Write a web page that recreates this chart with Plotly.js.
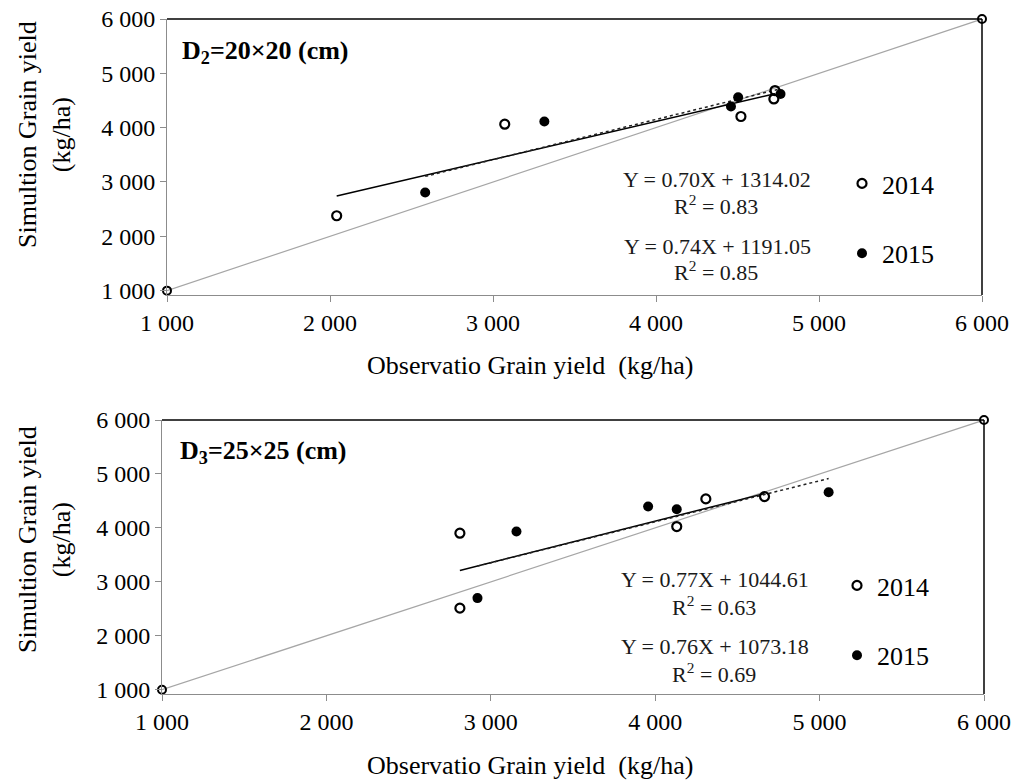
<!DOCTYPE html>
<html>
<head>
<meta charset="utf-8">
<script src="https://cdn.plot.ly/plotly-3.0.1.min.js"></script>
<style>html,body{margin:0;padding:0;background:#fff;}#chart{width:1014px;height:782px;}</style>
</head>
<body>
<div id="chart"></div>
<script>
// ---- data ----
var tickValues = [1000, 2000, 3000, 4000, 5000, 6000];
var tickLabels = ["1 000", "2 000", "3 000", "4 000", "5 000", "6 000"];
var oneToOne = [1000, 6000];

// Panel D2 = 20x20
var d2Obs2014 = [2041, 3072, 4521, 4723, 4730];
var d2Sim2014 = [2379, 4064, 4205, 4529, 4683];
var d2Obs2015 = [2584, 3315, 4460, 4504, 4764];
var d2Sim2015 = [2808, 4113, 4388, 4560, 4621];

// Panel D3 = 25x25
var d3Obs2014 = [2812, 2812, 4131, 4308, 4665];
var d3Sim2014 = [3901, 2512, 4025, 4537, 4580];
var d3Obs2015 = [2919, 3156, 3957, 4131, 5055];
var d3Sim2015 = [2698, 3932, 4395, 4346, 4660];

// regression coefficients [2014, 2015]
var d2Slope = [0.70, 0.74];
var d2Intercept = [1314.02, 1191.05];
var d2R2 = ["0.83", "0.85"];
var d3Slope = [0.77, 0.76];
var d3Intercept = [1044.61, 1073.18];
var d3R2 = ["0.63", "0.69"];

var panelLabels = ["D<sub>2</sub>=20×20 (cm)", "D<sub>3</sub>=25×25 (cm)"];
var seriesNames = ["2014", "2015"];
var xTitle = "Observatio Grain yield  (kg/ha)";
var yTitle = "Simultion Grain yield<br>(kg/ha)";

// ---- helpers ----
var FONT = "Liberation Serif";
function fitLine(xs, slope, intercept) {
  var lo = Math.min.apply(null, xs), hi = Math.max.apply(null, xs);
  return {x: [lo, hi], y: [slope * lo + intercept, slope * hi + intercept]};
}
function fmtEq(s, b) { return "Y = " + s.toFixed(2) + "X + " + b.toFixed(2); }

function panelTraces(xa, ya, leg, o14, s14, o15, s15, slope, inter) {
  var f14 = fitLine(o14, slope[0], inter[0]);
  var f15 = fitLine(o15, slope[1], inter[1]);
  return [
    {x: oneToOne, y: oneToOne, xaxis: xa, yaxis: ya, mode: "lines+markers", showlegend: false, cliponaxis: false,
     line: {color: "#a6a6a6", width: 1.2},
     marker: {symbol: "circle-open", size: 8, color: "#000", line: {width: 2, color: "#000"}}},
    {x: f14.x, y: f14.y, xaxis: xa, yaxis: ya, mode: "lines", showlegend: false,
     line: {color: "#000", width: 1.5}},
    {x: f15.x, y: f15.y, xaxis: xa, yaxis: ya, mode: "lines", showlegend: false,
     line: {color: "#222", width: 1.5, dash: "dot"}},
    {x: o14, y: s14, xaxis: xa, yaxis: ya, mode: "markers", name: seriesNames[0], cliponaxis: false,
     legend: leg, legendgroup: leg + "a",
     marker: {symbol: "circle-open", size: 9, color: "#000", line: {width: 2.2, color: "#000"}}},
    {x: o15, y: s15, xaxis: xa, yaxis: ya, mode: "markers", name: seriesNames[1], cliponaxis: false,
     legend: leg, legendgroup: leg + "b",
     marker: {symbol: "circle", size: 10, color: "#000"}}
  ];
}

var traces = [].concat(
  panelTraces("x", "y", "legend", d2Obs2014, d2Sim2014, d2Obs2015, d2Sim2015, d2Slope, d2Intercept),
  panelTraces("x2", "y2", "legend2", d3Obs2014, d3Sim2014, d3Obs2015, d3Sim2015, d3Slope, d3Intercept)
);

function axisX(domain, anchor) {
  return {domain: domain, anchor: anchor, range: [1000, 6000], tickvals: tickValues, ticktext: tickLabels,
    showline: true, linecolor: "#8c8c8c", linewidth: 1, ticks: "outside", ticklen: 6, tickcolor: "#8c8c8c",
    showgrid: false, zeroline: false, tickfont: {family: FONT, size: 24, color: "#000"}};
}
function axisY(domain, anchor) {
  return {domain: domain, anchor: anchor, range: [920, 6000], tickvals: tickValues, ticktext: tickLabels,
    showline: true, linecolor: "#8c8c8c", linewidth: 1, ticks: "outside", ticklen: 6, tickcolor: "#8c8c8c",
    showgrid: false, zeroline: false, tickfont: {family: FONT, size: 24, color: "#000"}};
}

function eqAnn(xr, yr, x, y, txt, size) {
  return {xref: xr, yref: yr, x: x, y: y, text: txt, showarrow: false, xanchor: "center", yanchor: "middle",
    font: {family: FONT, size: size, color: "#1a1a1a"}};
}

var annotations = [
  {xref: "x", yref: "y", x: 1080, y: 5400, text: "<b>" + panelLabels[0] + "</b>", showarrow: false,
   xanchor: "left", yanchor: "middle", font: {family: FONT, size: 26, color: "#000"}},
  {xref: "x2", yref: "y2", x: 1095, y: 5414, text: "<b>" + panelLabels[1] + "</b>", showarrow: false,
   xanchor: "left", yanchor: "middle", font: {family: FONT, size: 26, color: "#000"}},
  eqAnn("x", "y", 4377, 3040, fmtEq(d2Slope[0], d2Intercept[0]), 22),
  eqAnn("x", "y", 4365, 2581, "R<sup>2</sup> = " + d2R2[0], 22),
  eqAnn("x", "y", 4377, 1814, fmtEq(d2Slope[1], d2Intercept[1]), 22),
  eqAnn("x", "y", 4365, 1355, "R<sup>2</sup> = " + d2R2[1], 22),
  eqAnn("x2", "y2", 4366, 3037, fmtEq(d3Slope[0], d3Intercept[0]), 22),
  eqAnn("x2", "y2", 4355, 2556, "R<sup>2</sup> = " + d3R2[0], 22),
  eqAnn("x2", "y2", 4366, 1802, fmtEq(d3Slope[1], d3Intercept[1]), 22),
  eqAnn("x2", "y2", 4355, 1309, "R<sup>2</sup> = " + d3R2[1], 22),
  // axis titles
  {xref: "paper", yref: "paper", x: 530 / 1014, y: 1 - 366 / 782, text: xTitle, showarrow: false,
   xanchor: "center", yanchor: "middle", font: {family: FONT, size: 26, color: "#000"}},
  {xref: "paper", yref: "paper", x: 530 / 1014, y: 1 - 765 / 782, text: xTitle, showarrow: false,
   xanchor: "center", yanchor: "middle", font: {family: FONT, size: 26, color: "#000"}},
  {xref: "paper", yref: "paper", x: 44 / 1014, y: 1 - 135 / 782, text: yTitle, showarrow: false, textangle: -90,
   xanchor: "center", yanchor: "middle", font: {family: FONT, size: 26, color: "#000"}},
  {xref: "paper", yref: "paper", x: 44 / 1014, y: 1 - 540 / 782, text: yTitle, showarrow: false, textangle: -90,
   xanchor: "center", yanchor: "middle", font: {family: FONT, size: 26, color: "#000"}}
];

var shapes = [
  {type: "line", xref: "x domain", yref: "y domain", x0: 0, x1: 1, y0: 1, y1: 1, line: {color: "#000", width: 1.5}},
  {type: "line", xref: "x domain", yref: "y domain", x0: 1, x1: 1, y0: 0, y1: 1, line: {color: "#000", width: 1.5}},
  {type: "line", xref: "x2 domain", yref: "y2 domain", x0: 0, x1: 1, y0: 1, y1: 1, line: {color: "#000", width: 1.5}},
  {type: "line", xref: "x2 domain", yref: "y2 domain", x0: 1, x1: 1, y0: 0, y1: 1, line: {color: "#000", width: 1.5}}
];

var legendStyle = {font: {family: FONT, size: 26, color: "#000"}, bgcolor: "rgba(0,0,0,0)", borderwidth: 0,
  tracegroupgap: 33, itemwidth: 30, xanchor: "left", yanchor: "top"};

var layout = {
  width: 1014, height: 782,
  margin: {l: 0, r: 0, t: 0, b: 0},
  paper_bgcolor: "#fff", plot_bgcolor: "#fff",
  font: {family: FONT},
  showlegend: true,
  xaxis: axisX([167 / 1014, 982 / 1014], "y"),
  yaxis: axisY([1 - 295 / 782, 1 - 19 / 782], "x"),
  xaxis2: axisX([162 / 1014, 984 / 1014], "y2"),
  yaxis2: axisY([1 - 694 / 782, 1 - 420 / 782], "x2"),
  legend: Object.assign({x: 842 / 1014, y: 1 - 160 / 782}, legendStyle),
  legend2: Object.assign({x: 837 / 1014, y: 1 - 562 / 782}, legendStyle),
  annotations: annotations,
  shapes: shapes
};

Plotly.newPlot("chart", traces, layout, {displayModeBar: false, staticPlot: true});
</script>
</body>
</html>
